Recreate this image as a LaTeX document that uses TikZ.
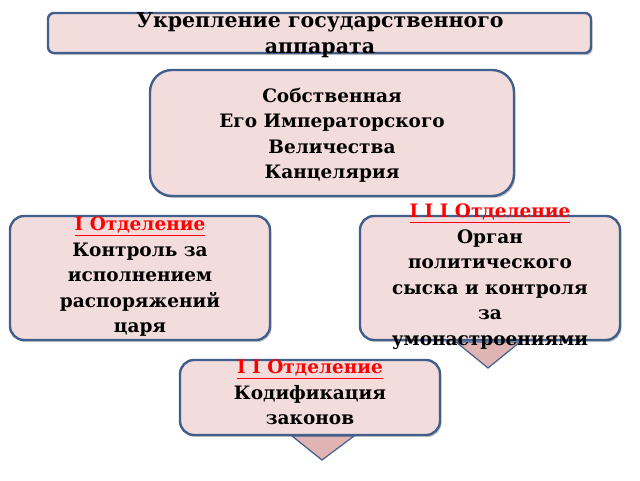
\documentclass[tikz,border=0pt]{standalone}
\usepackage{fontspec}
\setmainfont{DejaVu Serif}
\usetikzlibrary{shadows}
\definecolor{boxfill}{RGB}{242,220,220}
\definecolor{boxline}{RGB}{65,95,140}
\definecolor{trifill}{RGB}{225,180,180}
\tikzset{
  panel/.style={draw=boxline,line width=2.4pt,fill=boxfill,rounded corners=14pt,
    drop shadow={shadow xshift=1.5pt,shadow yshift=-2pt,fill=black!45}},
  txt/.style={align=center,font=\bfseries\fontsize{18.5}{25.5}\selectfont,inner sep=0pt},
  pointer/.style={draw=boxline,line width=1.2pt,fill=trifill}
}
\newcommand{\sect}[1]{\textcolor{red}{\underline{#1}}}
\begin{document}
\begin{tikzpicture}[x=1pt,y=-1pt]
  \useasboundingbox (0,0) rectangle (640,480);
  % boxes
  \draw[panel,rounded corners=6pt] (48,13) rectangle (591,53);
  \draw[panel,rounded corners=22pt] (150,70) rectangle (514,196);
  \draw[panel] (10,216) rectangle (270,340);
  \draw[panel] (360,216) rectangle (620,340);
  \draw[panel] (180,360) rectangle (440,435);
  % pointers
  \coordinate (m3) at (488,368);
  \coordinate (m2) at (322,460);
  \draw[pointer] (456,342) -- (520,342) -- (m3) -- cycle;
  \draw[pointer] (292,436) -- (354,436) -- (m2) -- cycle;
  % texts
  \node[txt,font=\bfseries\fontsize{20.5}{26}\selectfont] (title) at (320,35) {Укрепление государственного\\аппарата};
  \node[txt] (chanc) at (332,135) {Собственная\\Его Императорского\\Величества\\Канцелярия};
  \node[txt,anchor=north] (first) at (140,217) {\sect{I Отделение}\\Контроль за\\исполнением\\распоряжений\\царя};
  \node[txt,anchor=north] (third) at (490,204) {\sect{I I I Отделение}\\Орган\\политического\\сыска и контроля\\за\\умонастроениями};
  \node[txt,anchor=north] (second) at (310,360) {\sect{I I Отделение}\\Кодификация\\законов};
\end{tikzpicture}
\end{document}
